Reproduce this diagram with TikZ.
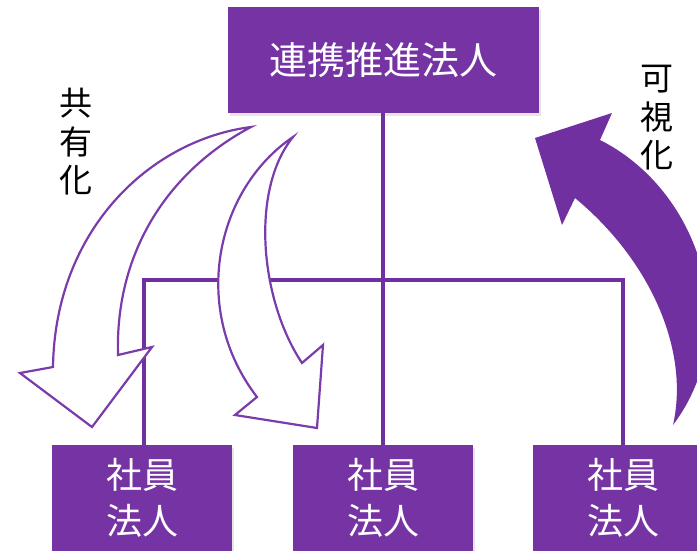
\documentclass[tikz,border=0pt]{standalone}
\usepackage{fontspec}
\newfontfamily\jp{Noto Sans CJK JP}
\usetikzlibrary{shadows}
\definecolor{boxpurple}{HTML}{7533A3}
\definecolor{linepurple}{HTML}{7030A0}
\definecolor{arrowpurple}{HTML}{7B3CAB}
\tikzset{
  orgbox/.style={fill=boxpurple, draw=none, inner sep=0pt, text=white, align=center,
    font=\jp\fontsize{36}{46}\selectfont,
    drop shadow={shadow xshift=2pt, shadow yshift=-3pt, opacity=0.2}},
  conn/.style={draw=linepurple, line width=3.3pt},
  hollowarrow/.style={draw=arrowpurple, fill=white, line width=2.2pt, line join=miter},
  solidarrow/.style={fill=linepurple, draw=none},
  sidelabel/.style={align=center, inner sep=0pt, text=black, font=\jp\fontsize{33}{38.5}\selectfont}
}
\begin{document}
\begin{tikzpicture}[x=1pt,y=-1pt]
\useasboundingbox (0,0) rectangle (697,550);
\clip (0,0) rectangle (697,550);
\fill[white] (0,0) rectangle (697,550);

% boxes
\node[orgbox, minimum width=311, minimum height=106, font=\jp\fontsize{38}{46}\selectfont] (top) at (383,60) {連携推進法人};
\node[orgbox, minimum width=180, minimum height=106] (m1) at (142,498) {社員\\法人};
\node[orgbox, minimum width=180, minimum height=106] (m2) at (383,498) {社員\\法人};
\node[orgbox, minimum width=180, minimum height=106] (m3) at (623,498) {社員\\法人};
\coordinate (hub) at (383,280);
\draw[conn] (top.south) -- (m2.north);
\draw[conn] (m1.north -| 144,0) |- (hub) -| (m3.north);

% hollow arrow 1
\draw[hollowarrow] (251,127) .. controls (150,140) and (55,230) .. (53,367)
  -- (20,373) -- (92,427) -- (152,347) -- (118,355)
  .. controls (115,250) and (170,170) .. cycle;
% hollow arrow 2
\draw[hollowarrow] (293,137) .. controls (215,190) and (190,310) .. (257,397)
  -- (235,415) -- (317,428) -- (323,345) -- (302,363)
  .. controls (260,300) and (250,190) .. cycle;
% solid arrow
\fill[solidarrow] (673,425) .. controls (690,350) and (650,260) .. (575,198)
  -- (562,225) -- (535,138) -- (612,113) -- (600,140)
  .. controls (700,190) and (745,330) .. cycle;

% labels
\node[sidelabel] (share) at (76,142) {共\\有\\化};
\node[sidelabel] (visual) at (657,118) {可\\視\\化};
\end{tikzpicture}
\end{document}
